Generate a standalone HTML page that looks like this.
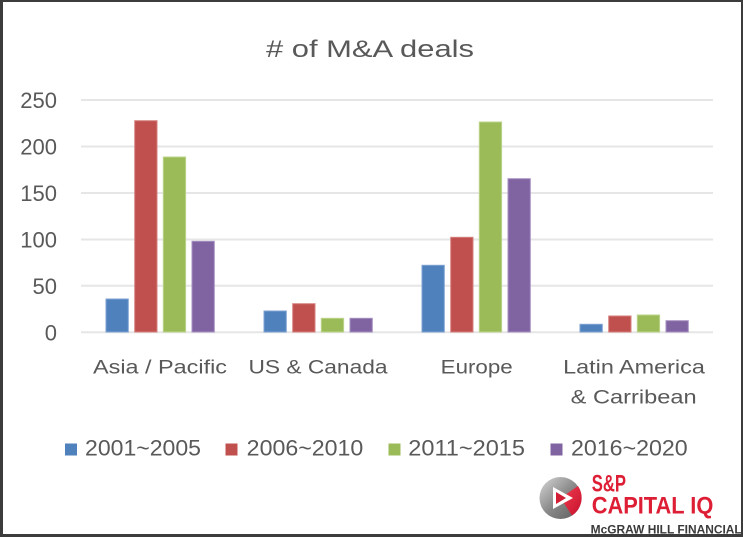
<!DOCTYPE html>
<html>
<head>
<meta charset="utf-8">
<style>
  html,body{margin:0;padding:0;background:#fff;}
  svg{display:block;}
  text{font-family:"Liberation Sans","Noto Sans CJK KR",sans-serif;}
</style>
</head>
<body>
<svg width="743" height="537" viewBox="0 0 743 537" xmlns="http://www.w3.org/2000/svg">
  <defs>
    <linearGradient id="gg" x1="0" y1="0" x2="1" y2="1">
      <stop offset="0" stop-color="#d8d8d8"/>
      <stop offset="0.5" stop-color="#8a8a8a"/>
      <stop offset="1" stop-color="#5a5a5a"/>
    </linearGradient>
    <linearGradient id="rg" x1="0" y1="0" x2="1" y2="1">
      <stop offset="0" stop-color="#f04050"/>
      <stop offset="1" stop-color="#c8102e"/>
    </linearGradient>
  </defs>
  <rect x="0" y="0" width="743" height="537" fill="#ffffff"/>

  <!-- title -->
  <text x="370" y="57" font-size="24" fill="#595959" text-anchor="middle" textLength="208" lengthAdjust="spacingAndGlyphs"># of M&amp;A deals</text>

  <!-- gridlines -->
  <g stroke="#e6e6e6" stroke-width="2">
    <line x1="81" y1="100" x2="713" y2="100"/>
    <line x1="81" y1="146.5" x2="713" y2="146.5"/>
    <line x1="81" y1="193" x2="713" y2="193"/>
    <line x1="81" y1="239.5" x2="713" y2="239.5"/>
    <line x1="81" y1="285.8" x2="713" y2="285.8"/>
    <line x1="81" y1="332.3" x2="713" y2="332.3"/>
  </g>

  <!-- y labels -->
  <g font-size="22" fill="#595959" text-anchor="end">
    <text x="57" y="108">250</text>
    <text x="57" y="154.5">200</text>
    <text x="57" y="201">150</text>
    <text x="57" y="247.5">100</text>
    <text x="57" y="294">50</text>
    <text x="57" y="340.3">0</text>
  </g>

  <!-- bars -->
  <g stroke-width="1">
    <!-- Asia / Pacific -->
    <rect x="106" y="299" width="22.3" height="33" fill="#4f81bd" stroke="#7ea3d3"/>
    <rect x="134.7" y="120.7" width="22.3" height="211.3" fill="#c0504d" stroke="#d6817f"/>
    <rect x="163.3" y="157" width="22.3" height="175" fill="#9bbb59" stroke="#bcd48b"/>
    <rect x="192" y="241.3" width="22.3" height="90.7" fill="#8064a2" stroke="#a690c1"/>
    <!-- US & Canada -->
    <rect x="264" y="311" width="22.3" height="21" fill="#4f81bd" stroke="#7ea3d3"/>
    <rect x="292.7" y="303.7" width="22.3" height="28.3" fill="#c0504d" stroke="#d6817f"/>
    <rect x="321.3" y="318.3" width="22.3" height="13.7" fill="#9bbb59" stroke="#bcd48b"/>
    <rect x="350" y="318.3" width="22.3" height="13.7" fill="#8064a2" stroke="#a690c1"/>
    <!-- Europe -->
    <rect x="422" y="265.3" width="22.3" height="66.7" fill="#4f81bd" stroke="#7ea3d3"/>
    <rect x="450.7" y="237.3" width="22.3" height="94.7" fill="#c0504d" stroke="#d6817f"/>
    <rect x="479.3" y="122" width="22.3" height="210" fill="#9bbb59" stroke="#bcd48b"/>
    <rect x="508" y="178.7" width="22.3" height="153.3" fill="#8064a2" stroke="#a690c1"/>
    <!-- Latin America -->
    <rect x="580" y="324.3" width="22.3" height="7.7" fill="#4f81bd" stroke="#7ea3d3"/>
    <rect x="608.7" y="316" width="22.3" height="16" fill="#c0504d" stroke="#d6817f"/>
    <rect x="637.3" y="315" width="22.3" height="17" fill="#9bbb59" stroke="#bcd48b"/>
    <rect x="666" y="320.7" width="22.3" height="11.3" fill="#8064a2" stroke="#a690c1"/>
  </g>

  <!-- x labels -->
  <g font-size="19" fill="#595959" text-anchor="middle">
    <text x="160" y="373.3" textLength="134" lengthAdjust="spacingAndGlyphs">Asia / Pacific</text>
    <text x="318" y="373.3" textLength="139" lengthAdjust="spacingAndGlyphs">US &amp; Canada</text>
    <text x="476.7" y="373.3" textLength="72" lengthAdjust="spacingAndGlyphs">Europe</text>
    <text x="634" y="373.3" textLength="141.7" lengthAdjust="spacingAndGlyphs">Latin America</text>
    <text x="633.7" y="403.3" textLength="126" lengthAdjust="spacingAndGlyphs">&amp; Carribean</text>
  </g>

  <!-- legend -->
  <rect x="65" y="443.5" width="12" height="12" fill="#4f81bd"/>
  <rect x="225.5" y="443.5" width="12" height="12" fill="#c0504d"/>
  <rect x="388.5" y="443.5" width="12" height="12" fill="#9bbb59"/>
  <rect x="550.5" y="443.5" width="12" height="12" fill="#8064a2"/>
  <g font-size="22" fill="#595959">
    <text x="85" y="455.7" textLength="116" lengthAdjust="spacingAndGlyphs">2001~2005</text>
    <text x="246.7" y="455.7" textLength="116.6" lengthAdjust="spacingAndGlyphs">2006~2010</text>
    <text x="408.3" y="455.7" textLength="116.7" lengthAdjust="spacingAndGlyphs">2011~2015</text>
    <text x="571" y="455.7" textLength="116.7" lengthAdjust="spacingAndGlyphs">2016~2020</text>
  </g>

  <!-- logo -->
  <circle cx="560.5" cy="498" r="21" fill="url(#gg)"/>
  <path d="M560.5,498 L578,486 A21,21 0 0,1 572,515.5 Z" fill="url(#rg)"/>
  <path d="M553,487 L573,498 L553,509 Z" fill="#ffffff"/>
  <path d="M556,492 L566,498 L556,504 Z" fill="#d11f35"/>
  <text x="591.7" y="491.7" font-size="24" font-weight="bold" fill="#dd1e34" textLength="34.3" lengthAdjust="spacingAndGlyphs">S&amp;P</text>
  <text x="591.7" y="513.3" font-size="24" font-weight="bold" fill="#dd1e34" textLength="121.6" lengthAdjust="spacingAndGlyphs">CAPITAL IQ</text>
  <text x="590.7" y="533.5" font-size="11.5" font-weight="bold" fill="#3a3a3a" textLength="151" lengthAdjust="spacingAndGlyphs">McGRAW HILL FINANCIAL</text>

  <!-- border -->
  <rect x="0" y="0" width="3" height="537" fill="#3c3c3c"/>
  <rect x="0" y="0" width="743" height="2" fill="#3c3c3c"/>
  <rect x="741" y="0" width="2" height="537" fill="#3c3c3c"/>
  <rect x="0" y="534" width="743" height="3" fill="#3c3c3c"/>
</svg>
</body>
</html>
